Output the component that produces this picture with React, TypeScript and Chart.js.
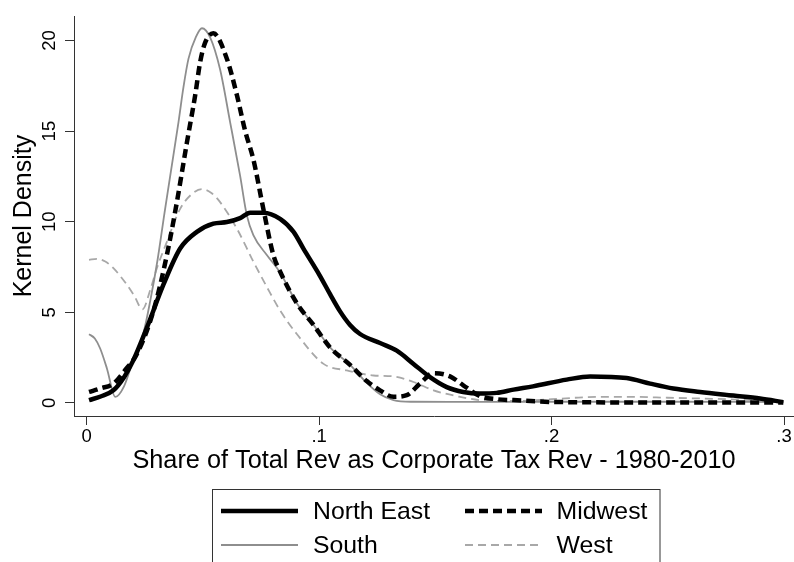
import React, { useEffect, useRef } from "react";
import { Chart, registerables } from "chart.js";

Chart.register(...registerables);

// ---- Data ----
const SERIES_NAMES = ["North East", "Midwest", "South", "West"];

const NE_X = [0.001, 0.006, 0.0115, 0.016, 0.02, 0.0259, 0.033, 0.0402, 0.0474, 0.0545, 0.0603, 0.066, 0.0703, 0.076, 0.0832, 0.089, 0.0933, 0.0976, 0.1004, 0.1047, 0.109, 0.1133, 0.1176, 0.1262, 0.1334, 0.1406, 0.1477, 0.1549, 0.162, 0.1692, 0.1764, 0.1836, 0.192, 0.2065, 0.2166, 0.2323, 0.2424, 0.2524, 0.2639, 0.2782, 0.2897, 0.2997];
const NE_Y = [0.15, 0.35, 0.69, 1.4, 2.33, 4.15, 6.52, 8.52, 9.44, 9.89, 9.98, 10.2, 10.5, 10.5, 10.16, 9.44, 8.5, 7.6, 7.0, 6.0, 5.05, 4.3, 3.8, 3.3, 2.88, 2.15, 1.42, 0.87, 0.6, 0.51, 0.55, 0.73, 0.91, 1.28, 1.46, 1.37, 1.06, 0.79, 0.6, 0.4, 0.24, 0.04];

const MW_X = [0.001, 0.006, 0.0115, 0.0165, 0.0216, 0.0287, 0.0345, 0.0388, 0.0431, 0.0467, 0.0488, 0.051, 0.0545, 0.0603, 0.0646, 0.0682, 0.0717, 0.076, 0.0803, 0.0832, 0.0904, 0.0976, 0.1047, 0.1133, 0.1205, 0.1262, 0.132, 0.1377, 0.1434, 0.1492, 0.1563, 0.162, 0.1692, 0.1764, 0.1836, 0.2, 0.25, 0.2997];
const MW_Y = [0.6, 0.8, 1.06, 1.8, 2.7, 5.07, 8.16, 11.08, 14.36, 17.0, 18.8, 19.9, 20.4, 19.0, 17.0, 15.0, 13.44, 10.71, 8.16, 7.25, 5.5, 4.3, 3.06, 2.1, 1.2, 0.69, 0.33, 0.42, 1.06, 1.64, 1.46, 0.97, 0.37, 0.2, 0.15, 0.05, 0.02, 0.02];

const SO_X = [0.001, 0.0035, 0.0058, 0.0087, 0.0123, 0.016, 0.0201, 0.0245, 0.0273, 0.0305, 0.0335, 0.0359, 0.0395, 0.0416, 0.0438, 0.047, 0.0496, 0.0531, 0.0574, 0.0617, 0.066, 0.0689, 0.0717, 0.0775, 0.0832, 0.0904, 0.0976, 0.1047, 0.1133, 0.1205, 0.1262, 0.132, 0.14, 0.16, 0.2, 0.25, 0.2997];
const SO_Y = [3.79, 3.55, 3.0, 1.9, 0.33, 0.9, 2.4, 3.9, 5.6, 7.9, 10.5, 12.5, 15.5, 17.4, 19.0, 20.2, 20.68, 20.18, 18.4, 15.5, 12.54, 10.35, 9.26, 8.16, 7.2, 5.5, 4.3, 3.06, 2.1, 1.1, 0.47, 0.15, 0.06, 0.05, 0.06, 0.06, 0.04];

const WE_X = [0.001, 0.0044, 0.008, 0.0115, 0.0173, 0.0205, 0.024, 0.0275, 0.0302, 0.0345, 0.0402, 0.045, 0.0495, 0.0535, 0.0574, 0.0646, 0.0717, 0.0775, 0.0832, 0.0904, 0.1019, 0.1119, 0.1234, 0.132, 0.1406, 0.1492, 0.1606, 0.169, 0.18, 0.19, 0.2, 0.21, 0.2209, 0.235, 0.25, 0.264, 0.28, 0.29, 0.2997];
const WE_Y = [7.89, 7.95, 7.8, 7.43, 6.52, 5.9, 5.16, 6.3, 7.43, 8.89, 10.71, 11.5, 11.8, 11.6, 11.08, 9.62, 7.8, 6.4, 5.1, 3.8, 2.15, 1.79, 1.51, 1.46, 1.15, 0.69, 0.33, 0.15, 0.1, 0.12, 0.2, 0.28, 0.33, 0.33, 0.28, 0.24, 0.18, 0.12, 0.05];

const X_TICKS = [0, 0.1, 0.2, 0.3];
const Y_TICKS = [0, 5, 10, 15, 20];
const X_TITLE = "Share of Total Rev as Corporate Tax Rev - 1980-2010";
const Y_TITLE = "Kernel Density";

const FONT = "'Liberation Sans', Arial, Helvetica, sans-serif";

const toPoints = (xs: number[], ys: number[]) => xs.map((x, i) => ({ x, y: ys[i] }));

const legendPlugin = {
  id: "boxLegend",
  afterDraw(chart: any) {
    const ctx = chart.ctx;
    ctx.save();
    ctx.strokeStyle = "#333";
    ctx.lineWidth = 1;
    ctx.strokeRect(212.5, 489.5, 447.5, 120);
    const cols = [
      { lx0: 221, lx1: 298, tx: 313 },
      { lx0: 465, lx1: 542, tx: 556.5 },
    ];
    const rows = [{ ly: 511, ty: 518.5 }, { ly: 545, ty: 552.5 }];
    const order = [0, 1, 2, 3];
    order.forEach((di, k) => {
      const ds = chart.data.datasets[di];
      const c = cols[k % 2];
      const r = rows[Math.floor(k / 2)];
      ctx.beginPath();
      ctx.strokeStyle = ds.borderColor;
      ctx.lineWidth = ds.borderWidth;
      ctx.setLineDash(ds.borderDash || []);
      ctx.moveTo(c.lx0, r.ly);
      ctx.lineTo(c.lx1, r.ly);
      ctx.stroke();
      ctx.setLineDash([]);
      ctx.fillStyle = "#000";
      ctx.font = `24.8px ${FONT}`;
      ctx.textBaseline = "alphabetic";
      ctx.textAlign = "left";
      ctx.fillText(ds.label, c.tx, r.ty);
    });
    ctx.restore();
  },
};

export default function App() {
  const ref = useRef<HTMLCanvasElement | null>(null);
  useEffect(() => {
    document.body.style.margin = "0";
    const canvas = ref.current!;
    const chart = new Chart(canvas, {
      type: "line",
      data: {
        datasets: [
          {
            label: SERIES_NAMES[0],
            data: toPoints(NE_X, NE_Y),
            borderColor: "#000",
            borderWidth: 4.5,
            pointRadius: 0,
            cubicInterpolationMode: "monotone",
          },
          {
            label: SERIES_NAMES[1],
            data: toPoints(MW_X, MW_Y),
            borderColor: "#000",
            borderWidth: 4.5,
            borderDash: [9, 5],
            pointRadius: 0,
            cubicInterpolationMode: "monotone",
          },
          {
            label: SERIES_NAMES[2],
            data: toPoints(SO_X, SO_Y),
            borderColor: "#8e8e8e",
            borderWidth: 1.8,
            pointRadius: 0,
            cubicInterpolationMode: "monotone",
          },
          {
            label: SERIES_NAMES[3],
            data: toPoints(WE_X, WE_Y),
            borderColor: "#a8a8a8",
            borderWidth: 1.8,
            borderDash: [8, 5],
            pointRadius: 0,
            cubicInterpolationMode: "monotone",
          },
        ],
      },
      options: {
        animation: false,
        responsive: false,
        devicePixelRatio: 1,
        layout: { padding: { top: 12, right: 0, left: 0, bottom: 82 } },
        plugins: { legend: { display: false }, tooltip: { enabled: false } },
        scales: {
          x: {
            type: "linear",
            min: -0.00546,
            max: 0.3043,
            afterBuildTicks: (s: any) => {
              s.ticks = X_TICKS.map((v) => ({ value: v }));
            },
            afterFit: (s: any) => {
              s.height = 64;
            },
            ticks: {
              autoSkip: false,
              maxRotation: 0,
              padding: 1,
              color: "#000",
              font: { family: FONT, size: 18.5 },
              callback: (v: any) => (v === 0 ? "0" : String(Math.round(v * 10) / 10).replace(/^0/, "")),
            },
            grid: { drawOnChartArea: false, drawTicks: true, tickLength: 9, color: "#333" },
            border: { display: true, color: "#333", width: 1 },
            title: {
              display: true,
              text: X_TITLE,
              color: "#000",
              font: { family: FONT, size: 25.3 },
              padding: { top: 0, bottom: 4 },
            },
          },
          y: {
            type: "linear",
            min: -0.727,
            max: 21.35,
            afterBuildTicks: (s: any) => {
              s.ticks = Y_TICKS.map((v) => ({ value: v }));
            },
            afterFit: (s: any) => {
              s.width = 74;
            },
            ticks: {
              autoSkip: false,
              minRotation: 90,
              maxRotation: 90,
              crossAlign: "center",
              padding: 5,
              color: "#000",
              font: { family: FONT, size: 18.5 },
              callback: (v: any) => String(v),
            },
            grid: { drawOnChartArea: false, drawTicks: true, tickLength: 9, color: "#333" },
            border: { display: true, color: "#333", width: 1 },
            title: {
              display: true,
              text: Y_TITLE,
              color: "#000",
              font: { family: FONT, size: 25 },
              padding: { top: 9, bottom: 0 },
            },
          },
        },
      },
      plugins: [legendPlugin],
    } as any);
    return () => chart.destroy();
  }, []);
  return (
    <div style={{ position: "absolute", left: 0, top: 0, width: 794, height: 562, background: "#fff" }}>
      <canvas ref={ref} width={794} height={562} />
    </div>
  );
}
